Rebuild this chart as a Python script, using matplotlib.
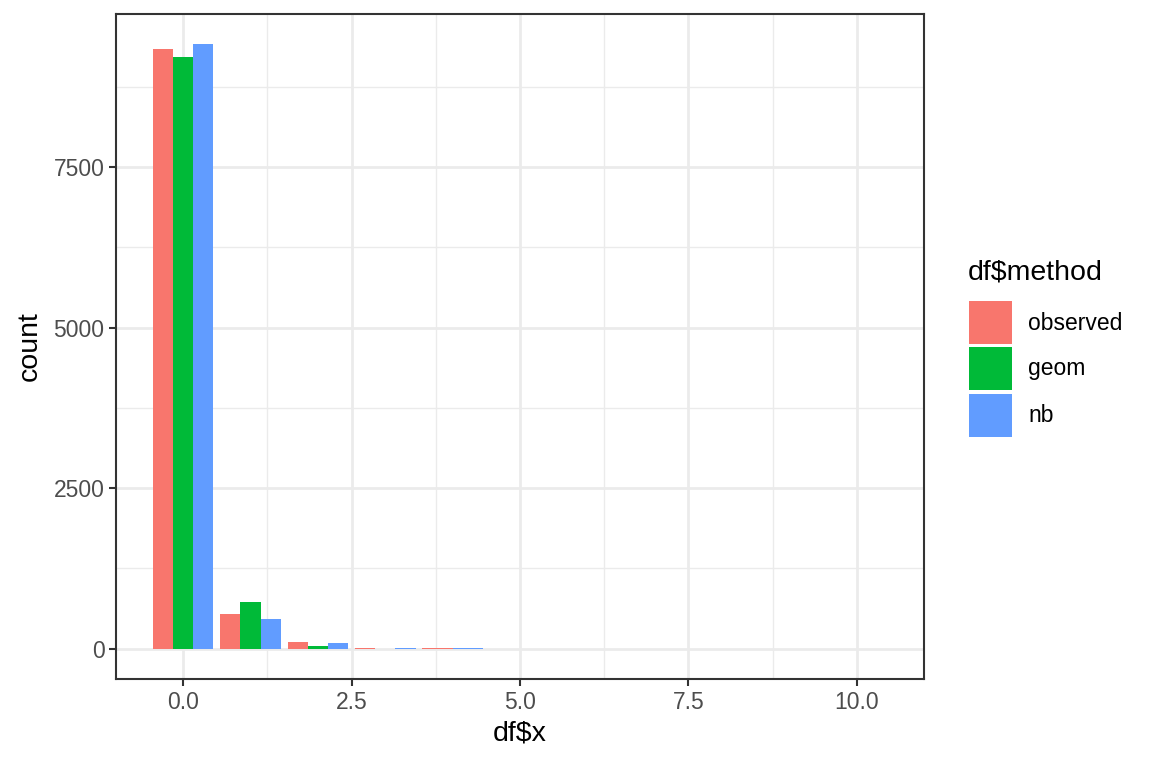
import numpy as np
import matplotlib
matplotlib.use("Agg")
import matplotlib.pyplot as plt
from matplotlib.patches import Rectangle

plt.rcParams['font.family'] = ['Liberation Sans', 'DejaVu Sans']

# Data: counts per x value for each method (NaN = group absent at that x)
x_vals = [0, 1, 2, 3, 4, 5, 6, 7, 8, 9, 10]
methods = ["observed", "geom", "nb"]
observed = [9330, 543, 109, 12, 8, np.nan, np.nan, np.nan, np.nan, np.nan, 1]
geom = [9208, 730, 47, 1, np.nan, np.nan, np.nan, np.nan, np.nan, np.nan, np.nan]
nb = [9410, 466, 93, 10, 8, np.nan, np.nan, np.nan, np.nan, np.nan, np.nan]
colors = ["#F8766D", "#00BA38", "#619CFF"]

series = [observed, geom, nb]

fig = plt.figure(figsize=(11.52, 7.68), dpi=100)
W, H = 1152, 768
ax = fig.add_axes([116 / W, 1 - 679 / H, (924 - 116) / W, (679 - 14) / H])

total_w = 0.9
for i, x in enumerate(x_vals):
    present = [k for k in range(3) if not np.isnan(series[k][i])]
    n = len(present)
    if n == 0:
        continue
    bw = total_w / n
    for j, k in enumerate(present):
        left = x - total_w / 2 + j * bw
        ax.bar(left, series[k][i], width=bw, align='edge', color=colors[k],
               linewidth=0, zorder=3)

ymax = np.nanmax([np.nanmax(s) for s in series])
ax.set_ylim(-0.05 * ymax, 1.05 * ymax)
xmin, xmax = min(x_vals) - 0.45, max(x_vals) + 0.45
xr = xmax - xmin
ax.set_xlim(xmin - 0.05 * xr, xmax + 0.05 * xr)

xticks = [0.0, 2.5, 5.0, 7.5, 10.0]
yticks = [0, 2500, 5000, 7500]
ax.set_xticks(xticks)
ax.set_xticklabels(["0.0", "2.5", "5.0", "7.5", "10.0"])
ax.set_yticks(yticks)
ax.set_yticklabels(["0", "2500", "5000", "7500"])
ax.set_xticks([1.25, 3.75, 6.25, 8.75], minor=True)
ax.set_yticks([1250, 3750, 6250, 8750], minor=True)

ax.grid(which='major', color='#EBEBEB', linewidth=2.0, zorder=0)
ax.grid(which='minor', color='#EBEBEB', linewidth=1.0, zorder=0)
ax.set_axisbelow(True)

for sp in ax.spines.values():
    sp.set_color('#333333')
    sp.set_linewidth(1.5)

ax.tick_params(which='major', length=5.3, width=1.5, color='#333333',
               labelsize=16.5, labelcolor='#4D4D4D', pad=3)
ax.tick_params(which='minor', length=0)

ax.set_xlabel("df$x", fontsize=20.5, color='black', labelpad=5)
ax.set_ylabel("count", fontsize=20.5, color='black', labelpad=8)

# Legend
fig.text(968 / W, 1 - 272 / H, "df$method", fontsize=20.5, va='center', ha='left')
key_tops = [301, 347, 394]
for k, top in enumerate(key_tops):
    fig.add_artist(Rectangle((969 / W, 1 - (top + 43) / H), 43 / W, 43 / H,
                             transform=fig.transFigure, facecolor=colors[k],
                             edgecolor='none'))
    fig.text(1028 / W, 1 - (top + 22) / H, methods[k], fontsize=16.5,
             va='center', ha='left')

fig.savefig("out.png", dpi=100, facecolor='white')
